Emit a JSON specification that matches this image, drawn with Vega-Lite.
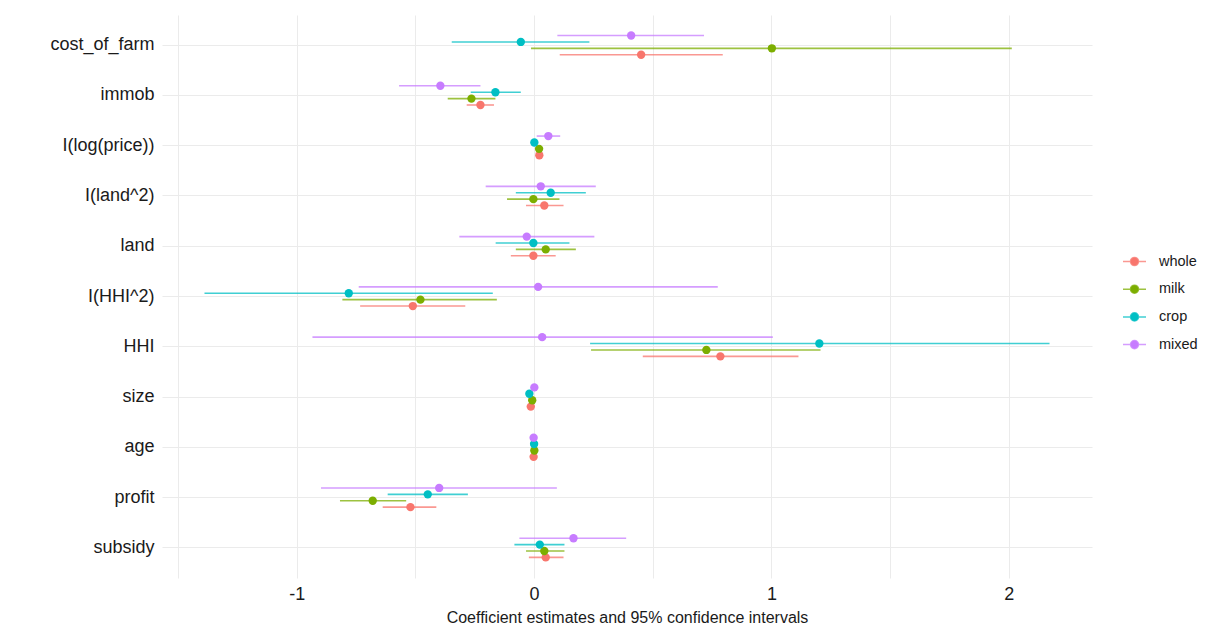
{
  "$schema": "https://vega.github.io/schema/vega-lite/v6.json",
  "autosize": {"type": "none"},
  "width": 930,
  "height": 563,
  "padding": {"left": 162, "top": 15, "right": 125, "bottom": 54},
  "background": "white",
  "config": {
    "font": "Liberation Sans",
    "view": {"stroke": null},
    "axis": {"domain": false, "ticks": false, "gridColor": "#EBEBEB", "gridWidth": 1, "labelColor": "#1a1a1a", "titleColor": "#1a1a1a", "labelFont": "Liberation Sans", "titleFont": "Liberation Sans", "titleFontWeight": "normal"}
  },
  "data": {"values": [
    {"term": "cost_of_farm", "model": "whole", "estimate": 0.451, "low": 0.108, "high": 0.795},
    {"term": "cost_of_farm", "model": "milk", "estimate": 1.002, "low": -0.013, "high": 2.013},
    {"term": "cost_of_farm", "model": "crop", "estimate": -0.056, "low": -0.347, "high": 0.233},
    {"term": "cost_of_farm", "model": "mixed", "estimate": 0.409, "low": 0.098, "high": 0.716},
    {"term": "immob", "model": "whole", "estimate": -0.226, "low": -0.284, "high": -0.169},
    {"term": "immob", "model": "milk", "estimate": -0.264, "low": -0.364, "high": -0.163},
    {"term": "immob", "model": "crop", "estimate": -0.163, "low": -0.267, "high": -0.056},
    {"term": "immob", "model": "mixed", "estimate": -0.395, "low": -0.569, "high": -0.226},
    {"term": "I(log(price))", "model": "whole", "estimate": 0.022, "low": 0.012, "high": 0.032},
    {"term": "I(log(price))", "model": "milk", "estimate": 0.021, "low": 0.011, "high": 0.031},
    {"term": "I(log(price))", "model": "crop", "estimate": 0.001, "low": -0.008, "high": 0.010},
    {"term": "I(log(price))", "model": "mixed", "estimate": 0.060, "low": 0.011, "high": 0.110},
    {"term": "I(land^2)", "model": "whole", "estimate": 0.043, "low": -0.034, "high": 0.124},
    {"term": "I(land^2)", "model": "milk", "estimate": -0.003, "low": -0.114, "high": 0.107},
    {"term": "I(land^2)", "model": "crop", "estimate": 0.070, "low": -0.077, "high": 0.218},
    {"term": "I(land^2)", "model": "mixed", "estimate": 0.028, "low": -0.204, "high": 0.260},
    {"term": "land", "model": "whole", "estimate": -0.003, "low": -0.098, "high": 0.091},
    {"term": "land", "model": "milk", "estimate": 0.049, "low": -0.077, "high": 0.176},
    {"term": "land", "model": "crop", "estimate": -0.003, "low": -0.162, "high": 0.149},
    {"term": "land", "model": "mixed", "estimate": -0.031, "low": -0.315, "high": 0.254},
    {"term": "I(HHI^2)", "model": "whole", "estimate": -0.511, "low": -0.733, "high": -0.290},
    {"term": "I(HHI^2)", "model": "milk", "estimate": -0.479, "low": -0.808, "high": -0.157},
    {"term": "I(HHI^2)", "model": "crop", "estimate": -0.781, "low": -1.389, "high": -0.174},
    {"term": "I(HHI^2)", "model": "mixed", "estimate": 0.017, "low": -0.739, "high": 0.774},
    {"term": "HHI", "model": "whole", "estimate": 0.785, "low": 0.458, "high": 1.114},
    {"term": "HHI", "model": "milk", "estimate": 0.726, "low": 0.240, "high": 1.207},
    {"term": "HHI", "model": "crop", "estimate": 1.202, "low": 0.236, "high": 2.172},
    {"term": "HHI", "model": "mixed", "estimate": 0.034, "low": -0.934, "high": 1.006},
    {"term": "size", "model": "whole", "estimate": -0.014, "low": -0.020, "high": -0.008},
    {"term": "size", "model": "milk", "estimate": -0.008, "low": -0.013, "high": -0.003},
    {"term": "size", "model": "crop", "estimate": -0.020, "low": -0.026, "high": -0.014},
    {"term": "size", "model": "mixed", "estimate": 0.001, "low": -0.004, "high": 0.006},
    {"term": "age", "model": "whole", "estimate": -0.002, "low": -0.004, "high": 0.000},
    {"term": "age", "model": "milk", "estimate": 0.001, "low": -0.001, "high": 0.003},
    {"term": "age", "model": "crop", "estimate": 0.000, "low": -0.002, "high": 0.002},
    {"term": "age", "model": "mixed", "estimate": -0.002, "low": -0.004, "high": 0.000},
    {"term": "profit", "model": "whole", "estimate": -0.521, "low": -0.638, "high": -0.412},
    {"term": "profit", "model": "milk", "estimate": -0.680, "low": -0.818, "high": -0.539},
    {"term": "profit", "model": "crop", "estimate": -0.448, "low": -0.617, "high": -0.279},
    {"term": "profit", "model": "mixed", "estimate": -0.400, "low": -0.898, "high": 0.096},
    {"term": "subsidy", "model": "whole", "estimate": 0.049, "low": -0.022, "high": 0.124},
    {"term": "subsidy", "model": "milk", "estimate": 0.043, "low": -0.034, "high": 0.128},
    {"term": "subsidy", "model": "crop", "estimate": 0.024, "low": -0.083, "high": 0.128},
    {"term": "subsidy", "model": "mixed", "estimate": 0.166, "low": -0.062, "high": 0.388}
  ]},
  "encoding": {
    "y": {
      "field": "term", "type": "nominal",
      "scale": {"domain": ["cost_of_farm", "immob", "I(log(price))", "I(land^2)", "land", "I(HHI^2)", "HHI", "size", "age", "profit", "subsidy"], "paddingInner": 0, "paddingOuter": 0.1},
      "axis": {"title": null, "bandPosition": 0.5, "labelFontSize": 18, "labelPadding": 8, "grid": true}
    },
    "yOffset": {
      "field": "model", "type": "nominal",
      "scale": {"type": "band", "domain": ["mixed", "crop", "milk", "whole"], "paddingInner": 0, "paddingOuter": 0, "range": [12.3, 37.9]}
    },
    "color": {
      "field": "model", "type": "nominal",
      "scale": {"domain": ["whole", "milk", "crop", "mixed"], "range": ["#F8766D", "#7CAE00", "#00BFC4", "#C77CFF"]},
      "legend": {
        "title": null, "orient": "none", "legendX": 960, "legendY": 234,
        "symbolType": "M-1,0H1M-0.35,0A0.35,0.35,0,1,1,0.35,0A0.35,0.35,0,1,1,-0.35,0Z",
        "symbolSize": 529, "symbolStrokeWidth": 1.5, "labelFontSize": 14.5, "labelColor": "#1a1a1a", "labelOffset": 12, "rowPadding": 7.7,
        "encode": {"symbols": {"update": {"fill": {"scale": "color", "field": "value"}, "stroke": {"scale": "color", "field": "value"}, "opacity": {"value": 1}, "fillOpacity": {"value": 1}, "strokeOpacity": {"value": 0.75}}}}
      }
    }
  },
  "layer": [
    {
      "mark": {"type": "rule", "strokeWidth": 1.6, "strokeOpacity": 0.75},
      "encoding": {
        "x": {"field": "low", "type": "quantitative",
          "scale": {"domain": [-1.568, 2.351], "nice": false, "zero": false},
          "axis": {"title": "Coefficient estimates and 95% confidence intervals", "values": [-1.5, -1, -0.5, 0, 0.5, 1, 1.5, 2], "labelExpr": "datum.value % 1 === 0 ? '' + datum.value : ''", "labelFontSize": 18, "labelPadding": 7, "titleFontSize": 16, "titlePadding": 6, "grid": true}},
        "x2": {"field": "high"}
      }
    },
    {
      "mark": {"type": "point", "filled": true, "size": 70, "opacity": 1},
      "encoding": {
        "x": {"field": "estimate", "type": "quantitative"}
      }
    }
  ]
}
